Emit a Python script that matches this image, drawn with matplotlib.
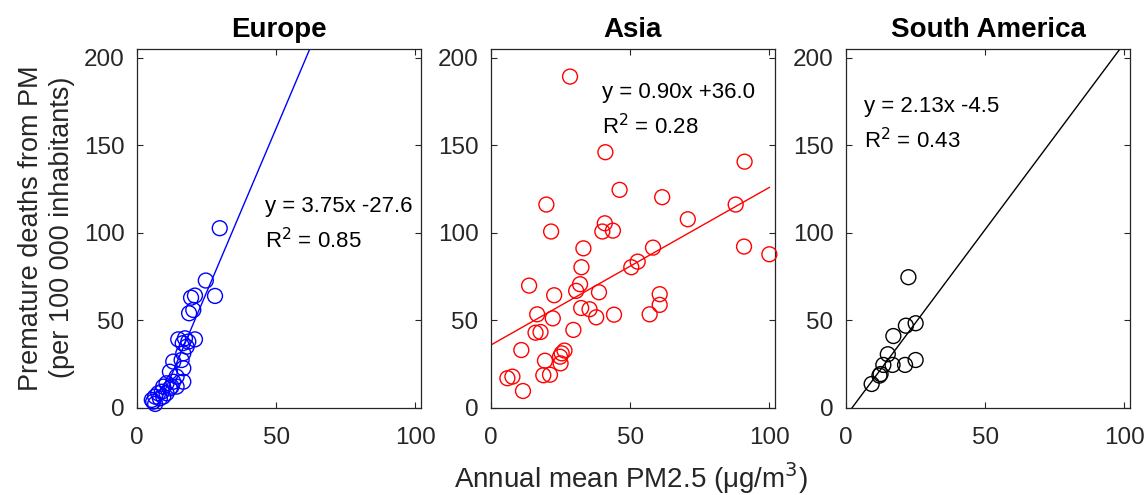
import numpy as np
import matplotlib.pyplot as plt

plt.rcParams['font.family'] = ['Liberation Sans', 'DejaVu Sans']

# PM2.5 (ug/m3) vs premature deaths per 100 000 inhabitants, by region
europe_pm = [29.7, 24.7, 28.0, 20.8, 19.4, 20.2, 18.7, 20.8, 14.8, 17.2, 18.4, 16.4,
             17.8, 16.6, 16.0, 13.0, 16.6, 11.8, 16.6, 14.2, 13.0, 10.6, 9.4, 11.8,
             8.9, 7.6, 10.6, 6.5, 8.2, 5.8, 6.5, 5.3, 9.4, 12.4, 14.2]
europe_deaths = [102.7, 72.8, 64.0, 64.2, 63.0, 56.0, 54.1, 39.2, 39.2, 39.8, 37.9, 37.0,
                 35.0, 31.2, 27.4, 26.5, 22.7, 20.7, 15.0, 17.9, 15.0, 14.1, 12.2, 11.2,
                 9.3, 8.4, 8.4, 6.5, 5.5, 3.6, 2.3, 4.6, 6.5, 12.2, 12.2]

asia_pm = [28.4, 41.1, 91.1, 46.2, 61.5, 19.9, 87.9, 70.7, 40.9, 40.0, 43.8, 21.6,
           33.2, 58.2, 90.9, 100.0, 52.7, 50.4, 32.5, 13.7, 32.0, 30.6, 38.8, 22.7,
           60.6, 60.6, 32.4, 35.4, 37.8, 44.2, 57.0, 16.6, 22.2, 29.6, 16.0, 17.8,
           10.9, 19.4, 26.4, 25.4, 24.8, 25.0, 18.8, 21.2, 5.9, 7.7, 11.5]
asia_deaths = [189.3, 146.1, 140.7, 124.6, 120.4, 116.2, 116.2, 107.8, 105.5, 100.8, 101.3, 100.8,
               91.2, 91.6, 92.2, 87.8, 83.6, 80.4, 80.4, 69.9, 70.7, 66.9, 66.1, 64.4,
               65.0, 58.9, 57.1, 56.4, 51.8, 53.3, 53.5, 53.5, 51.2, 44.6, 43.0, 43.4,
               33.1, 27.0, 32.8, 31.2, 29.3, 25.5, 18.7, 19.0, 17.0, 17.9, 9.7]

samerica_pm = [22.4, 25.0, 21.5, 17.0, 15.0, 16.7, 25.0, 21.2, 13.4, 12.4, 12.0, 9.2]
samerica_deaths = [74.7, 48.4, 47.0, 41.1, 30.7, 24.6, 27.4, 24.6, 24.6, 19.4, 18.5, 13.7]

regions = ['Europe', 'Asia', 'South America']
colors = ['#0000ff', '#ff0000', '#000000']
slopes = [3.75, 0.90, 2.13]
intercepts = [-27.6, 36.0, -4.5]
r2 = [0.85, 0.28, 0.43]
text_pos = [(46, 115), (40, 180), (6.5, 172)]
data = [(europe_pm, europe_deaths), (asia_pm, asia_deaths), (samerica_pm, samerica_deaths)]

fig = plt.figure(figsize=(11.45, 4.95), dpi=100)
lefts = [0.1197, 0.4288, 0.7389]
axes = [fig.add_axes([l, 0.1758, 0.248, 0.725]) for l in lefts]

axis_col = '#262626'
xfit = np.array([0, 100])
for i, ax in enumerate(axes):
    x, y = data[i]
    ax.scatter(x, y, s=115, facecolors='none', edgecolors=colors[i], linewidths=1.0,
               zorder=3, clip_on=False)
    ax.plot(xfit, slopes[i] * xfit + intercepts[i], color=colors[i], lw=1.0, zorder=2)
    ax.set_xlim(0, 102)
    ax.set_ylim(0, 205)
    ax.set_xticks([0, 50, 100])
    ax.set_yticks([0, 50, 100, 150, 200])
    ax.tick_params(direction='in', top=True, right=True, length=4, width=0.8,
                   labelsize=17.5, colors=axis_col)
    ax.tick_params(axis='x', pad=13.5)
    ax.tick_params(axis='y', pad=9)
    for sp in ax.spines.values():
        sp.set_color(axis_col)
        sp.set_linewidth(0.9)
    ax.set_title(regions[i], fontsize=20, fontweight='bold', pad=8.5)
    sign = '+' if intercepts[i] >= 0 else '-'
    tx, ty = text_pos[i]
    ax.text(tx, ty, 'y = %.2fx %s%.1f' % (slopes[i], sign, abs(intercepts[i])),
            fontsize=16, va='center', ha='left')
    ax.text(tx, ty - 19.5, 'R$^2$ = %.2f' % r2[i], fontsize=16, va='center', ha='left')

fig.text(0.041, 0.54, 'Premature deaths from PM\n(per 100 000 inhabitants)', fontsize=19.5,
         color=axis_col, rotation=90, ha='center', va='center', multialignment='center',
         linespacing=1.25)
fig.text(0.551, 0.035, 'Annual mean PM2.5 (μg/m$^3$)', fontsize=20, color=axis_col,
         ha='center', va='center')

fig.savefig('out.png', dpi=100)
